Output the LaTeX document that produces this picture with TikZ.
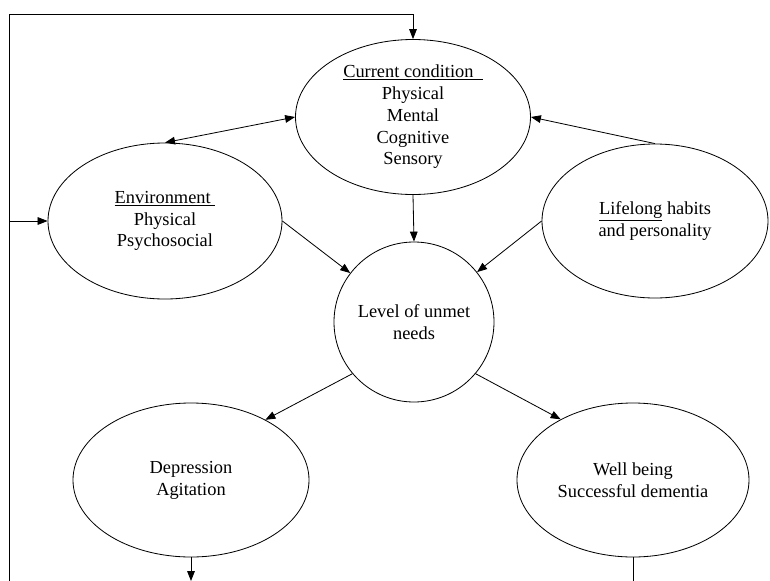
\documentclass[tikz,border=0pt]{standalone}
\usepackage{fontspec}
\setmainfont{Liberation Serif}
\usepackage{tikz}
\usetikzlibrary{shapes.geometric,arrows.meta}

\begin{document}
\begin{tikzpicture}[x=0.03cm,y=-0.03cm,>={Triangle[length=3mm,width=2.3mm]},
    line width=0.7pt]
  \tikzstyle{blob}=[draw,ellipse,inner sep=0pt,align=center,
    font=\fontsize{15.7}{18.6}\selectfont]
  \useasboundingbox (0,0) rectangle (770,581);
  \node[blob,minimum width=235*0.03cm,minimum height=155*0.03cm] (cur) at (413,117)
    {\underline{Current condition\ \ }\\Physical\\Mental\\Cognitive\\Sensory};
  \node[blob,minimum width=234*0.03cm,minimum height=156*0.03cm] (env) at (165,221)
    {\underline{Environment\ }\\Physical\\Psychosocial};
  \node[blob,minimum width=226*0.03cm,minimum height=154*0.03cm] (hab) at (655,221)
    {\underline{Lifelong} habits\\and personality};
  \node[blob,circle,minimum size=160*0.03cm] (lvl) at (414,322)
    {Level of unmet\\needs};
  \node[blob,minimum width=236*0.03cm,minimum height=154*0.03cm] (dep) at (191,480)
    {Depression\\Agitation};
  \node[blob,minimum width=232*0.03cm,minimum height=154*0.03cm] (well) at (633,480)
    {Well being\\Successful dementia};
  \coordinate (tl) at (9,14);
  \coordinate (bl) at (9,581);
  \coordinate (lj) at (9,221);
  \coordinate (db) at (dep.south |- bl);
  \coordinate (wb) at (well.south |- bl);
  \draw[<->] (env.north) -- (cur.west);
  \draw[->] (hab.north) -- (cur.east);
  \draw[->] (cur.south) -- (lvl.north);
  \draw[->] (env.east) -- (lvl);
  \draw[->] (hab.west) -- (lvl);
  \draw[->] (lvl.220) -- (dep.39);
  \draw[->] (lvl.320) -- (well.140);
  \draw[->] (bl) -- (tl) -| (cur.north);
  \draw[->] (lj) -- (env.west);
  \draw[->] (dep.south) -- (db);
  \draw (well.south) -- (wb);
\end{tikzpicture}
\end{document}
